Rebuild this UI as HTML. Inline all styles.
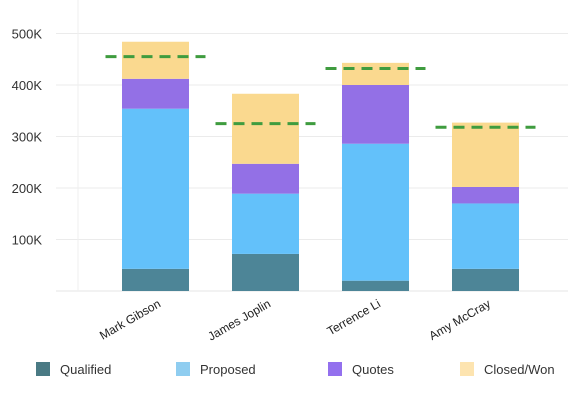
<!DOCTYPE html>
<html><head><meta charset="utf-8"><style>
body{margin:0;background:#fff;font-family:"Liberation Sans",sans-serif;}
</style></head><body>
<svg id="c" width="588" height="405" xmlns="http://www.w3.org/2000/svg" font-family="Liberation Sans, sans-serif"></svg>
<script>
const categories=["Mark Gibson","James Joplin","Terrence Li","Amy McCray"];
const qualified=[43,72,20,43];
const proposed=[311,117,266,127];
const quotes=[58,58,114,32];
const closedWon=[72,136,43,125];
const targets=[455,325,432,318];
const yTicks=[100,200,300,400,500];
const yTickLabels=["100K","200K","300K","400K","500K"];
const seriesNames=["Qualified","Proposed","Quotes","Closed/Won"];
const colors=["#4d8597","#63c1fa","#9370e6","#fad98f"];
const legendColors=["#4a7a84","#8fcdf0","#9370ee","#fde4b0"];
const svg=document.getElementById('c');
const NS="http://www.w3.org/2000/svg";
function el(t,a,p){const e=document.createElementNS(NS,t);for(const k in a)e.setAttribute(k,a[k]);(p||svg).appendChild(e);return e;}
const y0=291,yPer=0.515;
const y=v=>y0-v*yPer;
const x=i=>155.5+i*110;
const bw=67;
yTicks.forEach((t,i)=>{
 const g=el('line',{x1:56,x2:568,y1:y(t),y2:y(t),stroke:'#ebebeb'});
 
 const l=el('text',{x:42,y:y(t)+5,'text-anchor':'end','font-size':13,fill:'#333'});
 l.textContent=yTickLabels[i];
 
});
const base=el('line',{x1:56,x2:568,y1:y0,y2:y0,stroke:'#e6e6e6'});

const vl=el('line',{x1:78,x2:78,y1:0,y2:y0,stroke:'#efefef'});

const series=[qualified,proposed,quotes,closedWon];
categories.forEach((c,i)=>{
 let acc=0;
 series.forEach((s,j)=>{
  const r=el('rect',{x:x(i)-bw/2,y:y(acc+s[i]),width:bw,height:s[i]*yPer,fill:colors[j]});
  
  
  acc+=s[i];
 });
 const d=el('line',{x1:x(i)-50,x2:x(i)+50,y1:y(targets[i]),y2:y(targets[i]),stroke:'#3f9c3f','stroke-width':3,'stroke-dasharray':'11,7'});
 
 const t=el('text',{x:x(i)+6,y:y0+15,'text-anchor':'end','font-size':12,fill:'#222',transform:`rotate(-30 ${x(i)+6} ${y0+15})`});
 t.textContent=c;
 
});
const lx=[36,176,328,460];
seriesNames.forEach((n,j)=>{
 const r=el('rect',{x:lx[j],y:362,width:14,height:14,fill:legendColors[j]});
 
 const t=el('text',{x:lx[j]+24,y:374,'font-size':13,fill:'#333'});
 t.textContent=n;
 
});
</script>
</body></html>
